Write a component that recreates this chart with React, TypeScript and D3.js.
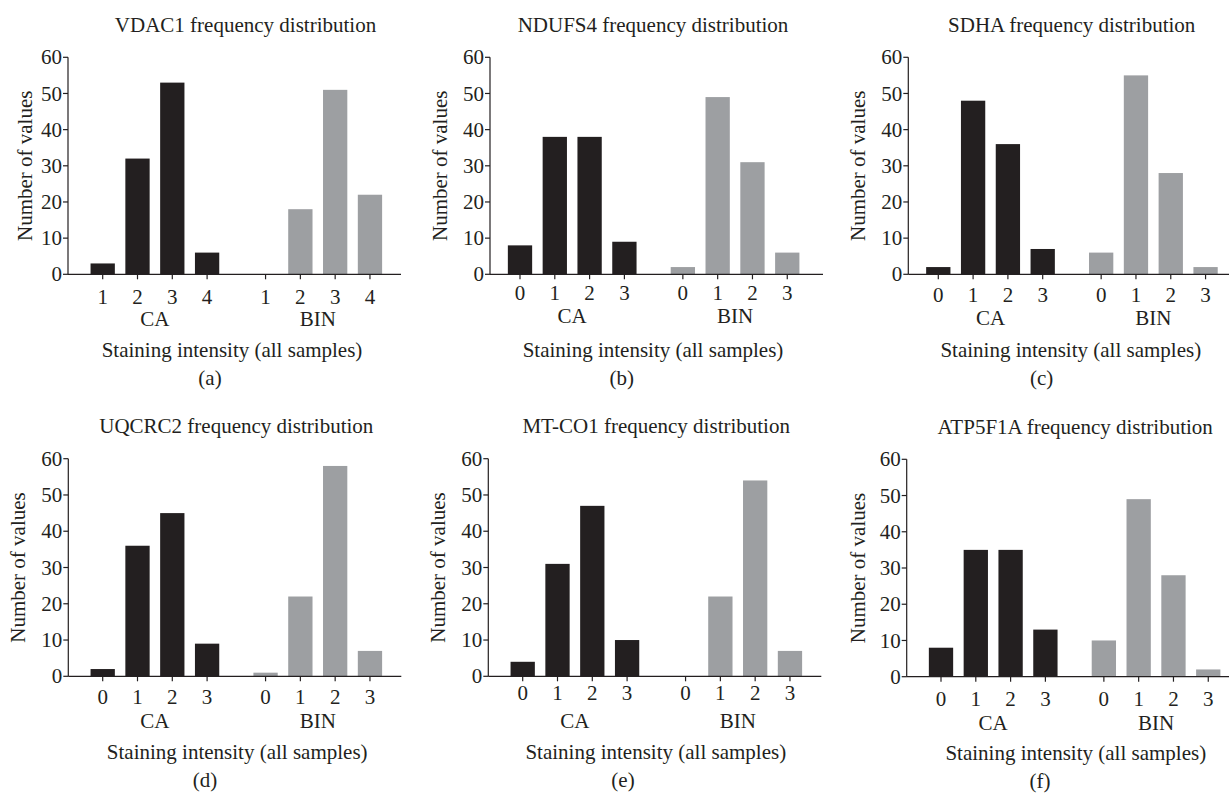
import React from 'react';
import * as d3 from 'd3';

// Staining-intensity frequency counts for each mitochondrial marker
const vdac1CA = [3, 32, 53, 6];
const vdac1BIN = [0, 18, 51, 22];
const ndufs4CA = [8, 38, 38, 9];
const ndufs4BIN = [2, 49, 31, 6];
const sdhaCA = [2, 48, 36, 7];
const sdhaBIN = [6, 55, 28, 2];
const uqcrc2CA = [2, 36, 45, 9];
const uqcrc2BIN = [1, 22, 58, 7];
const mtco1CA = [4, 31, 47, 10];
const mtco1BIN = [0, 22, 54, 7];
const atp5f1aCA = [8, 35, 35, 13];
const atp5f1aBIN = [10, 49, 28, 2];

const levelsOneToFour = ['1', '2', '3', '4'];
const levelsZeroToThree = ['0', '1', '2', '3'];
const groupNames = ['CA', 'BIN'];
const yTicks = [0, 10, 20, 30, 40, 50, 60];

const markers = ['VDAC1', 'NDUFS4', 'SDHA', 'UQCRC2', 'MT-CO1', 'ATP5F1A'];
const panelLetters = ['(a)', '(b)', '(c)', '(d)', '(e)', '(f)'];

const INK = '#231f20';
const CA_FILL = '#231f20';
const BIN_FILL = '#9d9fa2';
const FONT = '"Liberation Serif", "Times New Roman", serif';
const FS = 21;

// slot positions: two groups of four bars with a wider gap between groups
const slots = [0, 1, 2, 3, 4.68, 5.68, 6.68, 7.68];
const STEP = 34.8;
const BAR_W = 24.3;

interface Layout {
  axisX: number;
  firstOffset: number;
  yTop: number;
  yBottom: number;
  titleX: number;
  xLabelX: number;
  letterX: number;
  yLabelX: number;
  tickDy: number;
  groupDy: number;
}

const layouts: Layout[] = [
  { axisX: 68, firstOffset: 34.7, yTop: 57.3, yBottom: 274.3, titleX: 245.5, xLabelX: 232, letterX: 210, yLabelX: 25, tickDy: 22.3, groupDy: 45 },
  { axisX: 490, firstOffset: 30, yTop: 57.3, yBottom: 274.3, titleX: 653, xLabelX: 653, letterX: 621.7, yLabelX: 440, tickDy: 19, groupDy: 41.7 },
  { axisX: 908.3, firstOffset: 30, yTop: 57.3, yBottom: 274.3, titleX: 1071.7, xLabelX: 1070.8, letterX: 1041.7, yLabelX: 858.3, tickDy: 20.7, groupDy: 44 },
  { axisX: 68.3, firstOffset: 34.4, yTop: 458.7, yBottom: 676.3, titleX: 236.3, xLabelX: 237.2, letterX: 205, yLabelX: 18.3, tickDy: 20.3, groupDy: 44.3 },
  { axisX: 488.3, firstOffset: 34.4, yTop: 458.7, yBottom: 676.3, titleX: 656.2, xLabelX: 655.8, letterX: 623, yLabelX: 438.3, tickDy: 17, groupDy: 44.3 },
  { axisX: 906.7, firstOffset: 34.3, yTop: 459.3, yBottom: 676.7, titleX: 1075.2, xLabelX: 1075.8, letterX: 1040, yLabelX: 858.3, tickDy: 21.7, groupDy: 46 },
];

const caSeries = [vdac1CA, ndufs4CA, sdhaCA, uqcrc2CA, mtco1CA, atp5f1aCA];
const binSeries = [vdac1BIN, ndufs4BIN, sdhaBIN, uqcrc2BIN, mtco1BIN, atp5f1aBIN];
const levelSets = [levelsOneToFour, levelsZeroToThree, levelsZeroToThree, levelsZeroToThree, levelsZeroToThree, levelsZeroToThree];

function Panel({ index }: { index: number }) {
  const L = layouts[index];
  const ca = caSeries[index];
  const bin = binSeries[index];
  const levels = levelSets[index];

  const x0 = L.axisX + L.firstOffset;
  const x = d3.scaleLinear().domain([0, slots[slots.length - 1]]).range([x0, x0 + slots[slots.length - 1] * STEP]);
  const y = d3.scaleLinear().domain([0, 60]).range([L.yBottom, L.yTop]);

  const bars = [
    ...ca.map((v, i) => ({ v, pos: slots[i], fill: CA_FILL, label: levels[i] })),
    ...bin.map((v, i) => ({ v, pos: slots[i + 4], fill: BIN_FILL, label: levels[i] })),
  ];
  const axisEnd = L.axisX + 333;
  const groupCenters = [(slots[1] + slots[2]) / 2, (slots[5] + slots[6]) / 2];
  const yMid = (L.yTop + L.yBottom) / 2;

  return (
    <g>
      <text x={L.titleX} y={L.yTop - 25.5} textAnchor="middle" fontSize={FS} fill={INK}>
        {markers[index]} frequency distribution
      </text>

      {bars.map((b, i) => (
        <rect
          key={`bar-${i}`}
          x={x(b.pos) - BAR_W / 2}
          y={y(b.v)}
          width={BAR_W}
          height={y(0) - y(b.v)}
          fill={b.fill}
        />
      ))}

      {/* y axis */}
      <line x1={L.axisX} x2={L.axisX} y1={L.yTop} y2={L.yBottom} stroke={INK} strokeWidth={1.2} />
      {yTicks.map((t) => (
        <g key={`yt-${t}`}>
          <line x1={L.axisX - 5} x2={L.axisX} y1={y(t)} y2={y(t)} stroke={INK} strokeWidth={1.2} />
          <text x={L.axisX - 6} y={y(t)} dy="0.34em" textAnchor="end" fontSize={FS} fill={INK}>
            {t}
          </text>
        </g>
      ))}

      {/* x axis */}
      <line x1={L.axisX} x2={axisEnd} y1={L.yBottom} y2={L.yBottom} stroke={INK} strokeWidth={1.2} />
      {bars.map((b, i) => (
        <g key={`xt-${i}`}>
          <line x1={x(b.pos)} x2={x(b.pos)} y1={L.yBottom} y2={L.yBottom + 5} stroke={INK} strokeWidth={1.2} />
          <text x={x(b.pos)} y={L.yBottom + L.tickDy} dy="0.34em" textAnchor="middle" fontSize={FS} fill={INK}>
            {b.label}
          </text>
        </g>
      ))}
      {groupNames.map((g, i) => (
        <text key={g} x={x(groupCenters[i])} y={L.yBottom + L.groupDy} dy="0.34em" textAnchor="middle" fontSize={FS} fill={INK}>
          {g}
        </text>
      ))}

      <text x={L.xLabelX} y={L.yBottom + 83} textAnchor="middle" fontSize={FS} fill={INK}>
        Staining intensity (all samples)
      </text>
      <text
        transform={`translate(${L.yLabelX},${yMid}) rotate(-90)`}
        dy="0.34em"
        textAnchor="middle"
        fontSize={FS}
        fill={INK}
      >
        Number of values
      </text>
      <text x={L.letterX} y={L.yBottom + 111} textAnchor="middle" fontSize={FS} fill={INK}>
        {panelLetters[index]}
      </text>
    </g>
  );
}

export default function App() {
  return (
    <svg
      width={1229}
      height={801}
      viewBox="0 0 1229 801"
      style={{ position: 'absolute', left: 0, top: 0, background: '#fff', fontFamily: FONT }}
    >
      <rect width={1229} height={801} fill="#fff" />
      {markers.map((_, i) => (
        <Panel key={i} index={i} />
      ))}
    </svg>
  );
}
